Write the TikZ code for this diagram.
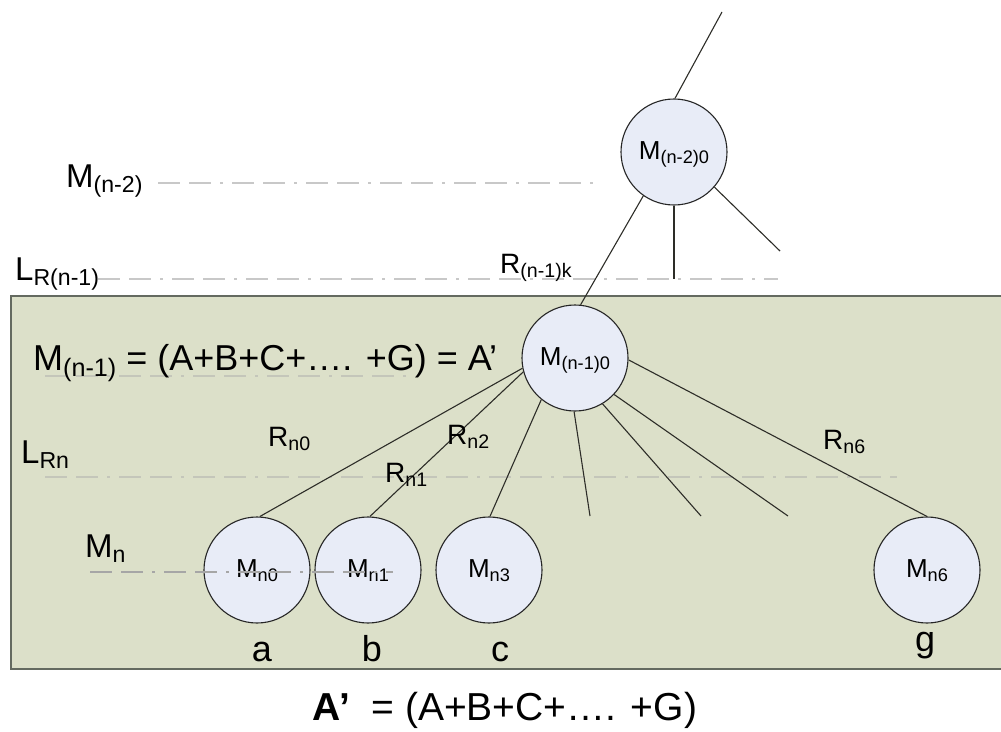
\documentclass[tikz,border=0pt]{standalone}
\usepackage{fontspec}
\setmainfont{Liberation Sans}
\definecolor{panel}{RGB}{220,224,201}
\definecolor{panelborder}{RGB}{100,106,96}
\definecolor{circfill}{RGB}{232,236,247}
\definecolor{dashgray}{RGB}{200,200,200}
\definecolor{dashin}{RGB}{196,198,186}
\definecolor{linecol}{RGB}{45,45,40}
\newcommand\Sb[1]{\raisebox{-0.17em}{\scalebox{0.7}{#1}}}
\newcommand\fbig{\fontsize{36}{40}\selectfont}
\newcommand\fmain{\fontsize{33}{38}\selectfont}
\newcommand\fcirc{\fontsize{26}{30}\selectfont}
\newcommand\frl{\fontsize{28}{32}\selectfont}
\tikzset{
  lbl/.style={inner sep=0, anchor=base west, font=\fmain},
  rlbl/.style={inner sep=0, anchor=base west, font=\frl},
  letter/.style={inner sep=0, anchor=base, font=\fbig},
  mcirc/.style={circle, draw=black!85, line width=1.1pt, fill=circfill, minimum size=106pt, inner sep=0, font=\fcirc, text height=19pt, text depth=5pt},
  edge/.style={draw=linecol, line width=1.1pt},
  guide/.style={draw=dashgray, line width=1.1pt, dash pattern=on 22pt off 9pt on 22pt off 9pt on 3pt off 9pt},
  guidein/.style={draw=dashin, line width=1.1pt, dash pattern=on 22pt off 9pt on 22pt off 9pt on 3pt off 9pt},
}
\begin{document}
\begin{tikzpicture}[x=1pt,y=-1pt]
\useasboundingbox (0,0) rectangle (1001,731);
% panel
\draw[line width=2.5pt, draw=panelborder, fill=panel] (11,296) rectangle (1020,669);
% guide lines
\coordinate (g1a) at (158,183); \coordinate (g1b) at (597,183);
\coordinate (g2a) at (98,279);  \coordinate (g2b) at (778,279);
\coordinate (g3a) at (45,376);  \coordinate (g3b) at (410,376);
\coordinate (g4a) at (45,477);  \coordinate (g4b) at (897,477);
\coordinate (g5a) at (90,572);  \coordinate (g5b) at (393,572);
\draw[guide] (g1a) -- (g1b);
\draw[guide] (g2a) -- (g2b);
\draw[guidein] (g3a) -- (g3b);
\draw[guidein] (g4a) -- (g4b);
% circles
\node[mcirc] (top) at (674,152) {M\Sb{(n-2)0}};
\node[mcirc] (mid) at (575,358) {M\Sb{(n-1)0}};
\node[mcirc] (c0) at (257,570) {M\Sb{n0}};
\node[mcirc] (c1) at (368,570) {M\Sb{n1}};
\node[mcirc] (c3) at (489,570) {M\Sb{n3}};
\node[mcirc] (c6) at (927,570) {M\Sb{n6}};
\draw[guidein, draw=black!35] (g5a) -- (g5b);
% free ends
\coordinate (t1) at (722,12);
\coordinate (t2) at (674,279);
\coordinate (t3) at (780,251);
\coordinate (e1) at (590,516);
\coordinate (e2) at (701,516);
\coordinate (e3) at (788,516);
% connectors
\draw[edge] (top.89) -- (t1);
\draw[edge] (top.235) -- (mid.84);
\draw[edge] (top.270) -- (t2);
\draw[edge] (top.319) -- (t3);
\draw[edge] (mid.191) -- (c0.87);
\draw[edge] (mid.195) -- (c1.88);
\draw[edge] (mid.231) -- (c3.89);
\draw[edge] (mid.269) -- (e1);
\draw[edge] (mid.301) -- (e2);
\draw[edge] (mid.317) -- (e3);
\draw[edge] (mid.358) -- (c6.90);
% labels
\node[lbl] (lm2) at (66,187) {M\Sb{(n-2)}};
\node[lbl] (lr1) at (15,280) {L\Sb{R(n-1)}};
\node[rlbl] (rk) at (500,273) {R\Sb{(n-1)k}};
\node[lbl, font=\fbig] (lm1) at (33,370) {M\Sb{(n-1)} = (A+B+C+…. +G) = A’};
\node[lbl] (lrn) at (21,463) {L\Sb{Rn}};
\node[rlbl] (rn0) at (268,446) {R\Sb{n0}};
\node[rlbl] (rn1) at (385,482) {R\Sb{n1}};
\node[rlbl] (rn2) at (447,444) {R\Sb{n2}};
\node[rlbl] (rn6) at (823,449) {R\Sb{n6}};
\node[lbl] (lmn) at (85,557) {M\Sb{n}};
\node[letter] (la) at (262,661) {a};
\node[letter] (lb) at (372,661) {b};
\node[letter] (lc) at (500,661) {c};
\node[letter] (lg) at (925,651) {g};
\node[letter, font=\fontsize{39}{44}\selectfont] (formula) at (505,720) {\textbf{A’}\ \ = (A+B+C+…. +G)};
\end{tikzpicture}
\end{document}
